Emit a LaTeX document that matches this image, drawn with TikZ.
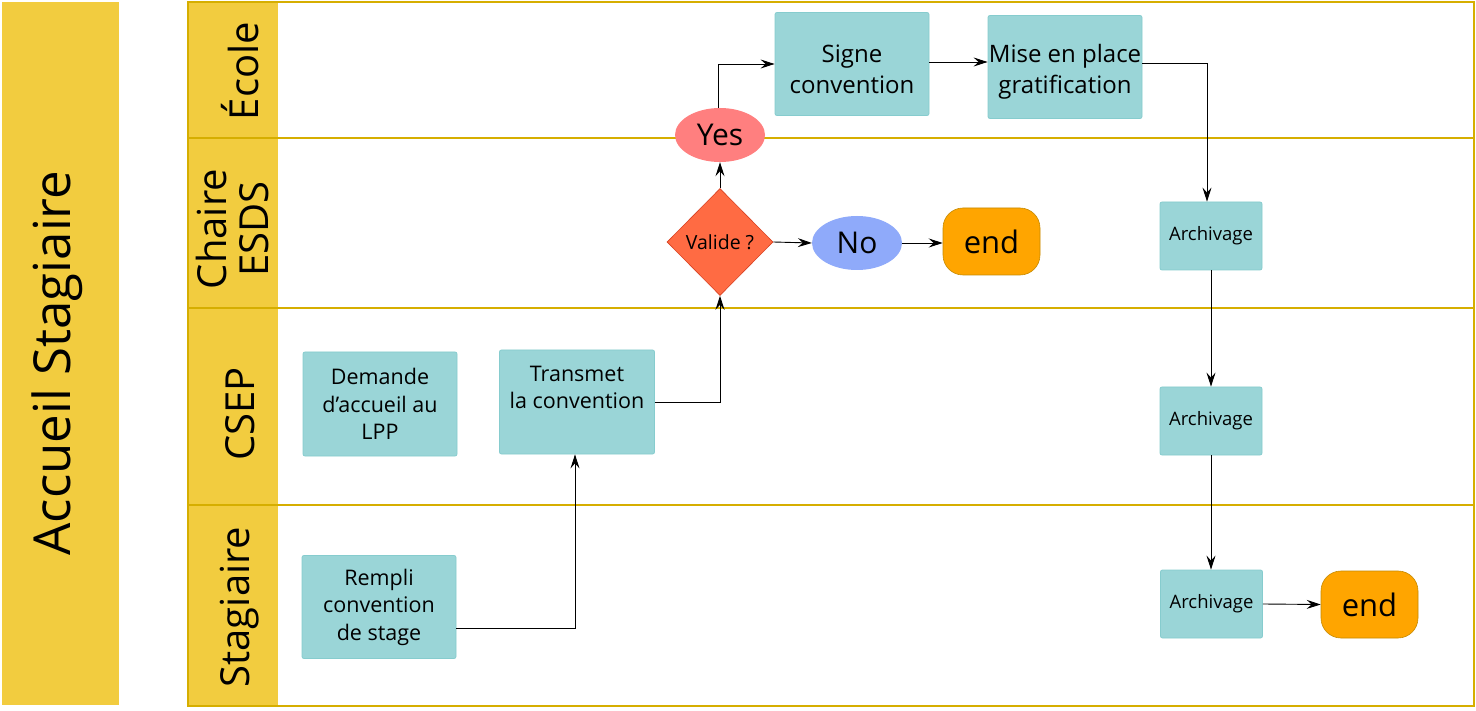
\documentclass[tikz,border=0pt]{standalone}
\usepackage{fontspec}
\setmainfont{Open Sans}
\usetikzlibrary{arrows.meta,shapes.geometric}
\definecolor{hdr}{HTML}{F2CC3F}
\definecolor{pool}{HTML}{D6AE00}
\definecolor{task}{HTML}{9AD5D7}
\definecolor{taskb}{HTML}{86CCCE}
\definecolor{yesc}{HTML}{FF7F7F}
\definecolor{noc}{HTML}{8FAAFA}
\definecolor{endc}{HTML}{FFA500}
\definecolor{endb}{HTML}{C58A00}
\definecolor{dia}{HTML}{FF6B43}
\definecolor{diab}{HTML}{D84020}
\tikzset{
  taskbox/.style={draw=taskb, line width=0.8pt, fill=task, rounded corners=2pt, align=center, inner sep=0pt, font=\fontsize{24}{31}\selectfont},
  smalltask/.style={taskbox, font=\fontsize{21.5}{27.5}\selectfont},
  archbox/.style={draw=taskb, line width=0.8pt, fill=task, rounded corners=2pt, minimum width=102pt, minimum height=68pt, inner sep=0pt, font=\fontsize{18.5}{22}\selectfont},
  endbox/.style={draw=endb, line width=0.6pt, fill=endc, rounded corners=20pt, minimum width=97pt, minimum height=67pt, inner sep=0pt, font=\fontsize{31}{34}\selectfont},
  oval/.style={ellipse, minimum width=90pt, minimum height=54pt, inner sep=0pt, font=\fontsize{30}{34}\selectfont},
  lanelbl/.style={rotate=90, align=center, font=\fontsize{40}{42}\selectfont},
  flow/.style={draw=black, line width=0.9pt, -{Stealth[length=14pt,width=9pt,inset=5pt]}},
  lane/.style={draw=pool, line width=1.6pt}
}
\begin{document}
\begin{tikzpicture}[x=1pt,y=-1pt]
\useasboundingbox (0,0) rectangle (1476,711);
\fill[white] (0,0) rectangle (1476,711);
% left title bar
\fill[hdr] (2,2) rectangle (119,705);
\node[rotate=90, font=\fontsize{51}{55}\selectfont] (title) at (57,363) {Accueil Stagiaire};
% pool
\fill[hdr] (188,2) rectangle (278,706);
\draw[lane] (188,2) rectangle (1474,706);
\draw[lane] (188,138) -- (1474,138);
\draw[lane] (188,308) -- (1474,308);
\draw[lane] (188,505) -- (1474,505);
\node[lanelbl] (l1) at (240,71) {École};
\node[lanelbl] (l2) at (232,229) {Chaire\\ESDS};
\node[lanelbl] (l3) at (240,414) {CSEP};
\node[lanelbl] (l4) at (240,607) {Stagiaire};
% tasks
\node[taskbox, minimum width=154pt, minimum height=103pt] (signe) at (852,64) {\rule{0pt}{28pt}Signe\\convention};
\node[taskbox, minimum width=154pt, minimum height=103pt] (mise) at (1065,67) {\rule{0pt}{27pt}Mise en place\\gratification};
\node[smalltask, minimum width=154pt, minimum height=104pt] (dem) at (380,404) {Demande\\d'accueil au\\LPP};
\node[smalltask, minimum width=155pt, minimum height=104pt] (trans) at (577,402) {Transmet\\la convention\\[2pt]};
\node[smalltask, minimum width=154pt, minimum height=103pt] (remp) at (379,607) {Rempli\\convention\\de stage};
\node[oval, fill=yesc] (yes) at (720,135) {Yes};
\node[diamond, draw=diab, line width=0.6pt, fill=dia, minimum width=106pt, minimum height=107pt, inner sep=0pt, font=\fontsize{19.5}{22}\selectfont] (val) at (720,242) {Valide ?};
\node[oval, fill=noc] (no) at (857,243) {No};
\node[endbox] (end1) at (991.5,241.5) {end};
\node[archbox] (a1) at (1211,236) {Archivage};
\node[archbox] (a2) at (1211,421) {Archivage};
\node[archbox] (a3) at (1211.5,604) {Archivage};
\node[endbox] (end2) at (1369.5,604.5) {end};
% flows
\draw[flow] (remp.east |- 0,628) -- (575,628) -- (575,0 |- trans.south);
\draw[flow] (trans.east) -- (720,402) -- (val.south);
\draw[flow] (val.north) -- (yes.south);
\draw[flow] (718,0 |- yes.north) -- (718,64) -- (signe.west |- 0,64);
\draw[flow] (signe.east |- 0,62) -- (mise.west |- 0,62);
\draw[flow] (mise.east |- 0,63) -- (1207,63) -- (1207,0 |- a1.north);
\draw[flow] (val.east) -- (no.west);
\draw[flow] (no.east) -- (end1.west |- no.east);
\draw[flow] (a1.south) -- (a2.north);
\draw[flow] (a2.south) -- (a2.south |- a3.north);
\draw[flow] (a3.east) -- (end2.west);
\end{tikzpicture}
\end{document}
